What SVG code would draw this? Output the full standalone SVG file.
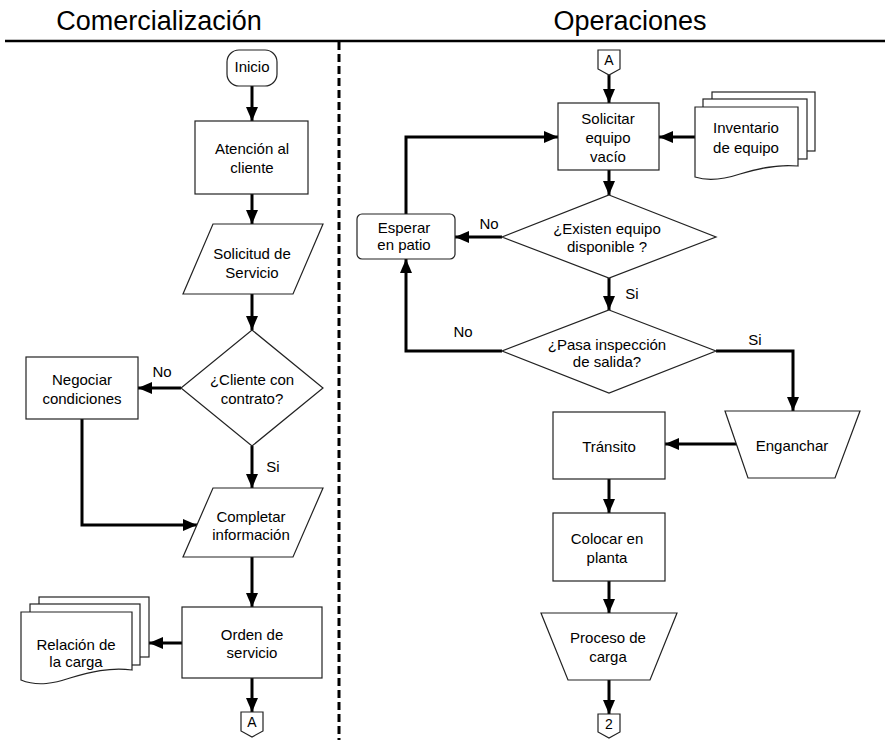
<svg xmlns="http://www.w3.org/2000/svg" width="885" height="740" viewBox="0 0 885 740">
<defs>
<marker id="ah" markerUnits="userSpaceOnUse" markerWidth="14" markerHeight="12" refX="14" refY="6" orient="auto">
<path d="M0,0 L14,6 L0,12 z" fill="#000"/>
</marker>
<style>
.s{fill:#fff;stroke:#222;stroke-width:1.2}
.t{font-family:"Liberation Sans",Arial,sans-serif;font-size:15px;fill:#000;text-anchor:middle}
.ts{font-family:"Liberation Sans",Arial,sans-serif;font-size:14px;fill:#000;text-anchor:middle}
.h{font-family:"Liberation Sans",Arial,sans-serif;font-size:27px;fill:#000;text-anchor:middle}
.c{fill:none;stroke:#000;stroke-width:3;marker-end:url(#ah)}
</style>
</defs>
<rect width="885" height="740" fill="#fff"/>
<g id="header">
<text class="h" x="159" y="30">Comercialización</text>
<text class="h" x="630" y="30">Operaciones</text>
<line x1="5" y1="41" x2="885" y2="41" stroke="#000" stroke-width="2.5"/>
<line x1="339" y1="42" x2="339" y2="740" stroke="#000" stroke-width="3" stroke-dasharray="8 4"/>
</g>
<g id="connectors">
<path class="c" d="M252,86 V121"/>
<path class="c" d="M252,194 V224"/>
<path class="c" d="M252,294 V330"/>
<path class="c" d="M181,388 H138"/>
<path class="c" d="M252,446 V488"/>
<path class="c" d="M82,419 V525 H197"/>
<path class="c" d="M252,557 V607"/>
<path class="c" d="M182,643 H149"/>
<path class="c" d="M252,678 V712"/>
<path class="c" d="M609,75 V103"/>
<path class="c" d="M695,137 H659"/>
<path class="c" d="M406,214 V137 H558"/>
<path class="c" d="M609,170 V195"/>
<path class="c" d="M502,237 H455"/>
<path class="c" d="M609,278 V310"/>
<path class="c" d="M502,351 H406 V259"/>
<path class="c" d="M716,351 H793 V411"/>
<path class="c" d="M737,444 H665"/>
<path class="c" d="M609,479 V513"/>
<path class="c" d="M609,581 V613"/>
<path class="c" d="M609,680 V714"/>
</g>
<g id="labels">
<text class="t" x="162" y="377">No</text>
<text class="t" x="273" y="472">Si</text>
<text class="t" x="489" y="229">No</text>
<text class="t" x="632" y="299">Si</text>
<text class="t" x="463" y="337">No</text>
<text class="t" x="755" y="345">Si</text>
</g>
<g id="inicio">
<rect class="s" x="227" y="50" width="50" height="36" rx="12" ry="12"/>
<text class="t" x="252" y="72">Inicio</text>
</g>
<g id="atencion">
<rect class="s" x="195" y="121" width="113" height="73"/>
<text class="t" x="252" y="154">Atención al</text>
<text class="t" x="252" y="173">cliente</text>
</g>
<g id="solicitud">
<path class="s" d="M213,224 H323 L293,294 H183 Z"/>
<text class="t" x="252" y="259">Solicitud de</text>
<text class="t" x="252" y="278">Servicio</text>
</g>
<g id="cliente">
<path class="s" d="M252,330 L323,388 L252,446 L181,388 Z"/>
<text class="t" x="252" y="385">¿Cliente con</text>
<text class="t" x="252" y="404">contrato?</text>
</g>
<g id="negociar">
<rect class="s" x="26" y="357" width="112" height="62"/>
<text class="t" x="82" y="385">Negociar</text>
<text class="t" x="82" y="404">condiciones</text>
</g>
<g id="completar">
<path class="s" d="M213,488 H323 L293,557 H183 Z"/>
<text class="t" x="251" y="522">Completar</text>
<text class="t" x="251" y="540">información</text>
</g>
<g id="orden">
<rect class="s" x="182" y="607" width="140" height="71"/>
<text class="t" x="252" y="640">Orden de</text>
<text class="t" x="252" y="658">servicio</text>
</g>
<g id="relacion">
<rect class="s" x="39" y="597" width="110" height="60"/>
<rect class="s" x="30" y="604" width="110" height="61"/>
<path class="s" d="M21,612 H132 V670 C110,667 90,672 70,678 C55,683 38,687 21,680 Z"/>
<text class="t" x="76" y="650">Relación de</text>
<text class="t" x="76" y="667">la carga</text>
</g>
<g id="conA1">
<path class="s" d="M241,712 H263 V731 L252,737 L241,731 Z"/>
<text class="ts" x="252" y="727">A</text>
</g>
<g id="conA2">
<path class="s" d="M598,50 H620 V69 L609,75 L598,69 Z"/>
<text class="ts" x="609" y="65">A</text>
</g>
<g id="solicitar">
<rect class="s" x="558" y="103" width="101" height="67"/>
<text class="t" x="608" y="124">Solicitar</text>
<text class="t" x="608" y="143">equipo</text>
<text class="t" x="608" y="162">vacío</text>
</g>
<g id="inventario">
<rect class="s" x="712" y="92" width="103" height="59"/>
<rect class="s" x="703" y="99" width="104" height="60"/>
<path class="s" d="M695,107 H798 V166 C778,164 760,168 740,174 C725,179 710,182 695,177 Z"/>
<text class="t" x="746" y="133">Inventario</text>
<text class="t" x="746" y="153">de equipo</text>
</g>
<g id="existen">
<path class="s" d="M609,195 L716,237 L609,278 L502,237 Z"/>
<text class="t" x="607" y="234">¿Existen equipo</text>
<text class="t" x="607" y="252">disponible ?</text>
</g>
<g id="esperar">
<rect class="s" x="357" y="214" width="98" height="45" rx="5" ry="5"/>
<text class="t" x="404" y="233">Esperar</text>
<text class="t" x="404" y="250">en patio</text>
</g>
<g id="pasa">
<path class="s" d="M609,310 L716,351 L609,393 L502,351 Z"/>
<text class="t" x="607" y="350">¿Pasa inspección</text>
<text class="t" x="607" y="367">de salida?</text>
</g>
<g id="enganchar">
<path class="s" d="M725,411 H860 L835,478 H748 Z"/>
<text class="t" x="792" y="451">Enganchar</text>
</g>
<g id="transito">
<rect class="s" x="553" y="412" width="112" height="67"/>
<text class="t" x="609" y="452">Tránsito</text>
</g>
<g id="colocar">
<rect class="s" x="553" y="513" width="112" height="68"/>
<text class="t" x="607" y="544">Colocar en</text>
<text class="t" x="607" y="563">planta</text>
</g>
<g id="proceso">
<path class="s" d="M541,613 H677 L650,680 H568 Z"/>
<text class="t" x="608" y="643">Proceso de</text>
<text class="t" x="608" y="662">carga</text>
</g>
<g id="con2">
<path class="s" d="M598,714 H620 V732 L609,738 L598,732 Z"/>
<text class="ts" x="609" y="729">2</text>
</g>
</svg>
